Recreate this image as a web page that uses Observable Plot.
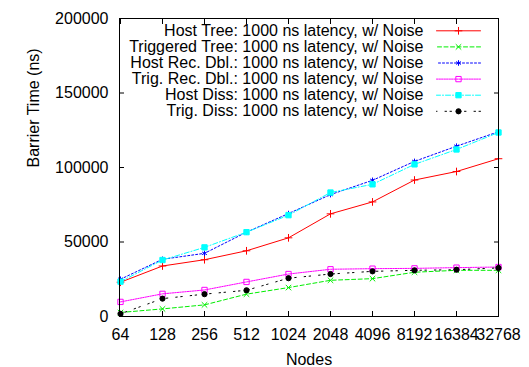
<!DOCTYPE html>
<html><head><meta charset="utf-8">
<script src="https://cdn.jsdelivr.net/npm/d3@7"></script>
<script src="https://cdn.jsdelivr.net/npm/@observablehq/plot@0.6"></script>
<style>body{margin:0;background:#fff} svg{display:block}</style>
</head><body><div id="chart"></div>
<script>
// ---- data ----
const nodes = ["64","128","256","512","1024","2048","4096","8192","16384","32768"];
const yTicks = [0, 50000, 100000, 150000, 200000];
const seriesNames = [
  "Host Tree: 1000 ns latency, w/ Noise",
  "Triggered Tree: 1000 ns latency, w/ Noise",
  "Host Rec. Dbl.: 1000 ns latency, w/ Noise",
  "Trig. Rec. Dbl.: 1000 ns latency, w/ Noise",
  "Host Diss: 1000 ns latency, w/ Noise",
  "Trig. Diss: 1000 ns latency, w/ Noise"
];
const hostTree      = [23000, 33900, 38100, 44100, 52800, 68900, 76900, 91600, 97300, 105900];
const triggeredTree = [2700, 5100, 7800, 15000, 19400, 24300, 25400, 29700, 31000, 31000];
const hostRecDbl    = [25000, 38400, 42400, 56600, 69100, 81800, 91400, 104100, 114300, 124000];
const trigRecDbl    = [9800, 15200, 17800, 23200, 28500, 31700, 32100, 32300, 32800, 33200];
const hostDiss      = [23400, 37900, 46400, 56600, 68000, 83200, 88700, 102100, 112100, 123500];
const trigDiss      = [1800, 12000, 15000, 17600, 25700, 28500, 30300, 31000, 31400, 32600];
const seriesValues = [hostTree, triggeredTree, hostRecDbl, trigRecDbl, hostDiss, trigDiss];

// ---- styles ----
const styles = [
  {stroke: "#ff0000", dash: null,             symbol: "plus",     fill: "none",    r: 2.6},
  {stroke: "#00ee00", dash: "4,2.5",          symbol: "times",    fill: "none",    r: 2.6},
  {stroke: "#0000ff", dash: "2,2",            symbol: "asterisk", fill: "none",    r: 2.6},
  {stroke: "#ff00ff", dash: "1.5,1",          symbol: "square",   fill: "none",    r: 3},
  {stroke: "#00ffff", dash: "5,2,1,2",        symbol: "square",   fill: "#00ffff", r: 3},
  {stroke: "#000000", dash: "1.5,3.5,1.5,8",  symbol: "circle",   fill: "#000000", r: 2.6}
];

const FONT = "'Liberation Sans', Arial, Helvetica, sans-serif";
const FS = 16;

const marks = [];
seriesValues.forEach((vals, i) => {
  const rows = nodes.map((n, j) => ({node: n, value: vals[j]}));
  const s = styles[i];
  marks.push(Plot.line(rows, {x: "node", y: "value", stroke: s.stroke, strokeWidth: 1, strokeDasharray: s.dash}));
  marks.push(Plot.dot(rows, {x: "node", y: "value", symbol: () => s.symbol, stroke: s.stroke, fill: s.fill, r: s.r, strokeWidth: 1}));
  // legend row
  const dy = 12.3 + i * 16.1;
  marks.push(Plot.text([seriesNames[i]], {text: d => d, frameAnchor: "top-right", dx: -75, dy, textAnchor: "end", lineAnchor: "middle", fontSize: FS, fill: "black"}));
  marks.push(Plot.vector([0], {frameAnchor: "top-right", dx: -18, dy, length: 44, rotate: 0, anchor: "start",
    shape: {draw(ctx, l) { ctx.moveTo(0, 0); ctx.lineTo(-l, 0); }},
    stroke: s.stroke, strokeWidth: 1, strokeDasharray: s.dash}));
  marks.push(Plot.dot([0], {frameAnchor: "top-right", dx: -40, dy, symbol: () => s.symbol, stroke: s.stroke, fill: s.fill, r: s.r, strokeWidth: 1}));
});

const chart = Plot.plot({
  width: 529,
  height: 367,
  marginLeft: 119,
  marginRight: 31,
  marginTop: 18,
  marginBottom: 51,
  style: {fontFamily: FONT, fontSize: FS + "px", background: "white", color: "black"},
  x: {type: "point", domain: nodes, padding: 0},
  y: {domain: [0, 200000]},
  marks: [
    Plot.axisY({ticks: yTicks, tickSize: 0, tickPadding: 11, tickFormat: d => String(d), fontSize: FS, label: null}),
    Plot.axisY({ticks: yTicks, tickSize: -5, tickFormat: () => "", label: null}),
    Plot.axisY({ticks: yTicks, anchor: "right", tickSize: -5, tickFormat: () => "", label: null}),
    Plot.axisX({tickSize: 0, tickPadding: 12, fontSize: FS, label: null}),
    Plot.axisX({tickSize: -5, tickFormat: () => "", label: null}),
    Plot.axisX({anchor: "top", tickSize: -5, tickFormat: () => "", label: null}),
    ...marks,
    Plot.frame({stroke: "black", strokeWidth: 1}),
    Plot.text(["Barrier Time (ns)"], {text: d => d, frameAnchor: "left", dx: -86, rotate: -90, fontSize: FS, fill: "black"}),
    Plot.text(["Nodes"], {text: d => d, frameAnchor: "bottom", dy: 43, lineAnchor: "middle", fontSize: FS, fill: "black"})
  ]
});
document.getElementById("chart").append(chart);
</script>
</body></html>
